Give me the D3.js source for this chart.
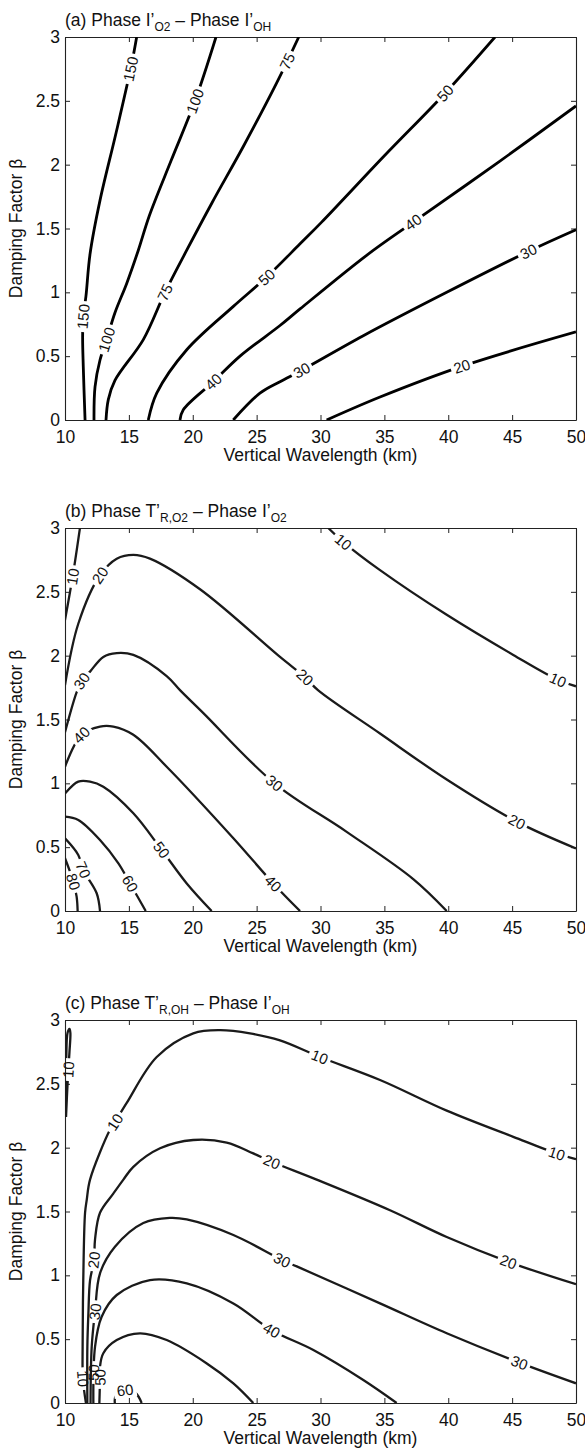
<!DOCTYPE html>
<html><head><meta charset="utf-8">
<script src="https://cdn.jsdelivr.net/npm/d3@7"></script>
<style>
body{margin:0;background:#fff}
svg{display:block}
text{font-family:"Liberation Sans",Arial,Helvetica,sans-serif;fill:#111}
</style>
</head><body>
<svg id="chart" width="585" height="1449"></svg>
<script>
// ---------- axes data ----------
const xTicks = [10,15,20,25,30,35,40,45,50];
const yTicks = [0,0.5,1,1.5,2,2.5,3];
const xDomain = [10,50];
const yDomain = [0,3];

// ---------- titles ----------
const titleA = [["(a) Phase I’",0],["O2",1],[" – Phase I’",0],["OH",1]];
const titleB = [["(b) Phase T’",0],["R,O2",1],[" – Phase I’",0],["O2",1]];
const titleC = [["(c) Phase T’",0],["R,OH",1],[" – Phase I’",0],["OH",1]];
const xLabel = "Vertical Wavelength (km)";
const yLabel = "Damping Factor β";

// ---------- panel (a) contours: [wavelength km, beta] ----------
const linesA = [
 {id:"a150", pts:[[11.57,0],[11.43,0.42],[11.38,0.65],[11.43,0.81],[11.64,0.97],[11.96,1.3],[12.74,1.72],[14.0,2.25],[15.2,2.78],[15.61,3]]},
 {id:"a100", pts:[[12.27,0],[12.35,0.26],[12.74,0.47],[13.26,0.63],[13.91,0.84],[14.83,1.07],[15.74,1.33],[16.6,1.6],[18.3,2.03],[20.18,2.5],[21.82,3]]},
 {id:"a75",  pts:[[13.21,0],[13.39,0.16],[13.91,0.31],[16.13,0.63],[17.83,1.0],[19.53,1.33],[21.5,1.7],[24.0,2.15],[26.57,2.64],[28.3,3]]},
 {id:"a50",  pts:[[16.52,0],[17.18,0.21],[19.53,0.55],[23.18,0.89],[25.79,1.12],[28.4,1.38],[30.09,1.55],[35.0,2.07],[39.75,2.56],[43.66,3]]},
 {id:"a40",  pts:[[19.0,0],[19.26,0.08],[21.61,0.3],[23.7,0.5],[26.83,0.74],[28.4,0.87],[33.61,1.29],[37.26,1.55],[43.8,2.01],[50,2.46]]},
 {id:"a30",  pts:[[23.17,0],[25.26,0.21],[26.83,0.3],[28.53,0.39],[33.35,0.66],[39.88,1.0],[46.27,1.32],[50,1.49]]},
 {id:"a20",  pts:[[30.48,0],[34.66,0.18],[41.05,0.42],[50,0.69]]}
];
const labelsA = [
 {id:"a150",text:"150",at:[15.09,2.75]},{id:"a150",text:"150",at:[11.43,0.81]},
 {id:"a100",text:"100",at:[20.18,2.5]},{id:"a100",text:"100",at:[13.26,0.63]},
 {id:"a75",text:"75",at:[27.35,2.81]},{id:"a75",text:"75",at:[17.83,1.0]},
 {id:"a50",text:"50",at:[39.75,2.56]},{id:"a50",text:"50",at:[25.79,1.12]},
 {id:"a40",text:"40",at:[37.26,1.55]},{id:"a40",text:"40",at:[21.61,0.3]},
 {id:"a30",text:"30",at:[46.27,1.32]},{id:"a30",text:"30",at:[28.53,0.39]},
 {id:"a20",text:"20",at:[41.05,0.42]}
];

// ---------- panel (b) contours ----------
const linesB = [
 {id:"b10a", pts:[[10,2.28],[10.6,2.62],[11.17,3]]},
 {id:"b10b", pts:[[30.61,3],[31.79,2.89],[34.66,2.67],[39.88,2.32],[45.09,2.006],[48.6,1.81],[50,1.76]]},
 {id:"b20", pts:[[10,1.77],[11.04,2.25],[12.74,2.63],[14.05,2.76],[15.35,2.79],[16.65,2.76],[20.57,2.52],[26.83,1.99],[28.8,1.83],[29.8,1.73],[34.66,1.39],[39.88,1.03],[45.36,0.70],[50,0.49]]},
 {id:"b30", pts:[[10,1.40],[10.9,1.71],[11.3,1.8],[11.96,1.875],[13.0,1.99],[14.05,2.02],[15.35,2.006],[17.96,1.84],[19.0,1.73],[20.83,1.55],[26.4,1.0],[32.05,0.62],[37.26,0.25],[39.88,0]]},
 {id:"b40", pts:[[10,1.13],[11.3,1.38],[12.74,1.444],[13.78,1.444],[15.35,1.38],[17.96,1.13],[23.18,0.57],[26.3,0.216],[28.4,0]]},
 {id:"b50", pts:[[10,0.92],[11.04,1.013],[11.96,1.013],[13.0,0.973],[15.35,0.765],[17.57,0.478],[19.53,0.216],[21.48,0]]},
 {id:"b60", pts:[[10,0.739],[11.04,0.713],[12.74,0.556],[14.18,0.373],[15.09,0.216],[16.32,0]]},
 {id:"b70", pts:[[10,0.569],[11.04,0.439],[11.43,0.321],[12.48,0.139],[12.74,0]]},
 {id:"b80", pts:[[10,0.413],[10.65,0.23],[10.91,0.112],[10.99,0]]}
];
const labelsB = [
 {id:"b10a",text:"10",at:[10.6,2.62]},
 {id:"b10b",text:"10",at:[31.79,2.89]},{id:"b10b",text:"10",at:[48.6,1.81]},
 {id:"b20",text:"20",at:[12.74,2.63]},{id:"b20",text:"20",at:[28.8,1.83]},{id:"b20",text:"20",at:[45.36,0.70]},
 {id:"b30",text:"30",at:[11.3,1.8]},{id:"b30",text:"30",at:[26.4,1.0]},
 {id:"b40",text:"40",at:[11.3,1.38]},{id:"b40",text:"40",at:[26.3,0.216]},
 {id:"b50",text:"50",at:[17.57,0.478]},
 {id:"b60",text:"60",at:[15.09,0.216]},
 {id:"b70",text:"70",at:[11.43,0.321]},
 {id:"b80",text:"80",at:[10.65,0.23]}
];

// ---------- panel (c) contours ----------
const linesC = [
 {id:"c10a", pts:[[10.08,2.24],[10.2,2.5],[10.35,2.75],[10.42,2.9],[10.35,2.93],[10.2,2.9],[10.1,2.7],[10.05,2.45],[10.08,2.24]]},
 {id:"c10", pts:[[11.64,0],[11.4,0.19],[11.38,0.44],[11.43,0.96],[11.57,1.49],[11.7,1.59],[11.96,1.75],[13.52,2.14],[13.91,2.2],[14.83,2.35],[17.18,2.71],[20.04,2.895],[22.13,2.92],[24.48,2.895],[26.83,2.84],[29.96,2.71],[34.66,2.53],[39.88,2.29],[45.09,2.085],[48.49,1.955],[50,1.91]]},
 {id:"c20", pts:[[11.75,0],[11.75,0.44],[11.83,0.70],[11.96,0.96],[12.27,1.12],[12.35,1.28],[12.74,1.49],[13.78,1.64],[14.57,1.75],[15.35,1.85],[17.44,1.995],[20.04,2.06],[22.66,2.04],[24.74,1.955],[26.18,1.89],[29.7,1.75],[35.44,1.51],[39.88,1.30],[44.7,1.106],[50,0.93]]},
 {id:"c30", pts:[[12.0,0],[12.09,0.44],[12.35,0.715],[12.74,1.016],[13.91,1.224],[16.13,1.41],[18.2,1.45],[19.53,1.438],[23.18,1.316],[27.0,1.12],[28.14,1.07],[34.66,0.78],[39.88,0.546],[45.57,0.316],[50,0.154]]},
 {id:"c40", pts:[[12.22,0],[12.35,0.44],[12.87,0.676],[14.05,0.846],[16.65,0.963],[19.53,0.937],[23.18,0.78],[26.18,0.57],[29.44,0.415],[33.35,0.18],[35.96,0]]},
 {id:"c50", pts:[[12.69,0],[12.74,0.2],[12.74,0.284],[13.0,0.39],[14.05,0.493],[15.87,0.546],[17.96,0.493],[21.1,0.31],[23.18,0.154],[24.74,0]]},
 {id:"c60", pts:[[13.9,0],[13.95,0.05],[14.6,0.1],[15.5,0.08],[16.0,0]]}
];
const labelsC = [
 {id:"c10a",text:"10",at:[10.3,2.61]},
 {id:"c10",text:"10",at:[13.91,2.2]},{id:"c10",text:"10",at:[29.96,2.71]},{id:"c10",text:"10",at:[48.49,1.955]},{id:"c10",text:"10",at:[11.4,0.19],flip:true},
 {id:"c20",text:"20",at:[12.27,1.12]},{id:"c20",text:"20",at:[26.18,1.89]},{id:"c20",text:"20",at:[44.7,1.106]},
 {id:"c30",text:"30",at:[12.35,0.715]},{id:"c30",text:"30",at:[27.0,1.12]},{id:"c30",text:"30",at:[45.57,0.316]},
 {id:"c40",text:"50",at:[12.25,0.24]},{id:"c40",text:"40",at:[26.18,0.57]},
 {id:"c50",text:"50",at:[12.74,0.2]},
 {id:"c60",text:"60",at:[14.7,0.1]}
];

// ---------- drawing ----------
const svg = d3.select("#chart");
const defs = svg.append("defs");
const plotLeft = 65, plotRight = 576, plotH = 383;
const FS = 17.5, SUBFS = 12, LABFS = 15;
const panels = [
 {top:37,  title:titleA, lines:linesA, labels:labelsA, stroke:"#000", sw:2.8},
 {top:528, title:titleB, lines:linesB, labels:labelsB, stroke:"#1a1a1a", sw:2.3},
 {top:1020,title:titleC, lines:linesC, labels:labelsC, stroke:"#1a1a1a", sw:2.3}
];
const x = d3.scaleLinear().domain(xDomain).range([plotLeft, plotRight]);

panels.forEach((p, pi) => {
  const top = p.top, bottom = top + plotH;
  const y = d3.scaleLinear().domain(yDomain).range([bottom, top]);
  const g = svg.append("g");
  const clipId = "clip" + pi;
  defs.append("clipPath").attr("id", clipId).append("rect")
    .attr("x", plotLeft).attr("y", top).attr("width", plotRight - plotLeft).attr("height", plotH);

  // axes
  const axCol = "#222";
  const bx = g.append("g").attr("transform", `translate(0,${bottom})`)
    .call(d3.axisBottom(x).tickValues(xTicks).tickSizeInner(-5).tickSizeOuter(0).tickPadding(10.5).tickFormat(d3.format("d")));
  const tx = g.append("g").attr("transform", `translate(0,${top})`)
    .call(d3.axisTop(x).tickValues(xTicks).tickSizeInner(-5).tickSizeOuter(0).tickFormat(""));
  const ly = g.append("g").attr("transform", `translate(${plotLeft},0)`)
    .call(d3.axisLeft(y).tickValues(yTicks).tickSizeInner(-5).tickSizeOuter(0).tickPadding(5).tickFormat(d => String(d)));
  const ry = g.append("g").attr("transform", `translate(${plotRight},0)`)
    .call(d3.axisRight(y).tickValues(yTicks).tickSizeInner(-5).tickSizeOuter(0).tickFormat(""));
  [bx, tx, ly, ry].forEach(a => {
    a.selectAll("path.domain").attr("stroke", axCol).attr("stroke-width", 1.1);
    a.selectAll(".tick line").attr("stroke", axCol).attr("stroke-width", 1);
    a.selectAll("text").attr("font-size", FS).attr("fill", "#111")
      .attr("font-family", '"Liberation Sans",Arial,Helvetica,sans-serif');
  });

  // axis titles
  g.append("text").attr("x", (plotLeft + plotRight) / 2).attr("y", bottom + 41)
    .attr("text-anchor", "middle").attr("font-size", FS).text(xLabel);
  g.append("text").attr("transform", `translate(22,${(top + bottom) / 2}) rotate(-90)`)
    .attr("text-anchor", "middle").attr("font-size", FS).text(yLabel);

  // title
  const t = g.append("text").attr("x", plotLeft).attr("y", top - 11).attr("font-size", FS);
  let prevSub = 0;
  p.title.forEach(([s, sub]) => {
    const ts = t.append("tspan").text(s);
    if (sub) ts.attr("font-size", SUBFS).attr("dy", prevSub ? 0 : 5);
    else ts.attr("dy", prevSub ? -5 : 0);
    prevSub = sub;
  });

  // contour lines
  const line = d3.line().x(d => x(d[0])).y(d => y(d[1])).curve(d3.curveCatmullRom.alpha(0.5));
  const lg = g.append("g").attr("clip-path", `url(#${clipId})`);
  const labG = g.append("g");
  p.lines.forEach(L => {
    const path = lg.append("path").datum(L.pts).attr("d", line)
      .attr("fill", "none").attr("stroke", p.stroke).attr("stroke-width", p.sw)
      .attr("stroke-linejoin", "round").attr("stroke-linecap", "butt");
    const node = path.node();
    const total = node.getTotalLength();
    const maskId = "m_" + L.id;
    const mask = defs.append("mask").attr("id", maskId).attr("maskUnits", "userSpaceOnUse")
      .attr("x", 0).attr("y", 0).attr("width", 585).attr("height", 1449);
    mask.append("rect").attr("x", 0).attr("y", 0).attr("width", 585).attr("height", 1449).attr("fill", "#fff");
    p.labels.filter(lb => lb.id === L.id).forEach(lb => {
      const px = x(lb.at[0]), py = y(lb.at[1]);
      let best = 0, bd = Infinity;
      for (let l = 0; l <= total; l += 0.5) {
        const q = node.getPointAtLength(l);
        const d = (q.x - px) ** 2 + (q.y - py) ** 2;
        if (d < bd) { bd = d; best = l; }
      }
      const c = node.getPointAtLength(best);
      const p1 = node.getPointAtLength(Math.max(0, best - 6));
      const p2 = node.getPointAtLength(Math.min(total, best + 6));
      let a = Math.atan2(p2.y - p1.y, p2.x - p1.x) * 180 / Math.PI;
      while (a >= 80) a -= 180;
      while (a < -100) a += 180;
      if (lb.flip) a += 180;
      const txt = labG.append("text").attr("transform", `translate(${c.x},${c.y}) rotate(${a})`)
        .attr("text-anchor", "middle").attr("dy", "0.36em").attr("font-size", LABFS).text(lb.text);
      const w = txt.node().getComputedTextLength();
      mask.append("rect").attr("transform", `translate(${c.x},${c.y}) rotate(${a})`)
        .attr("x", -w / 2 - 3).attr("y", -7.5).attr("width", w + 6).attr("height", 15).attr("fill", "#000");
    });
    path.attr("mask", `url(#${maskId})`);
  });
});
</script>
</body></html>
